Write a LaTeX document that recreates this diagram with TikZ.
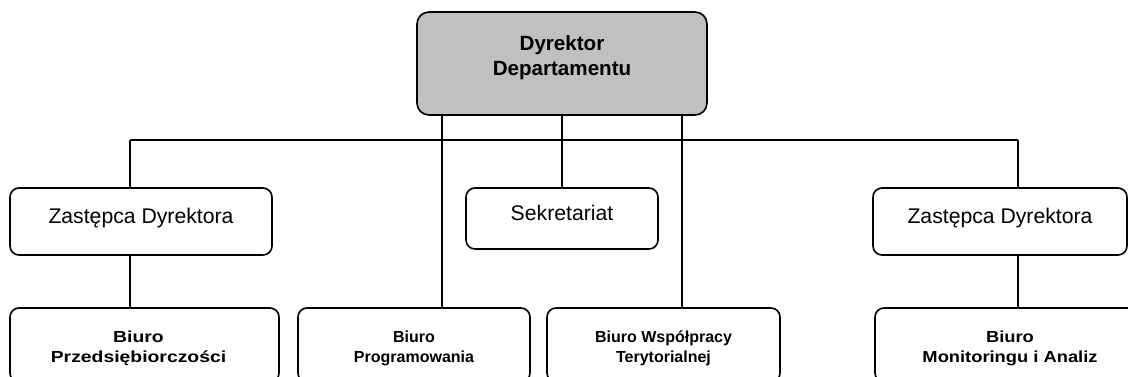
\documentclass[tikz,border=0pt]{standalone}
\usepackage{fontspec}
\usepackage{graphicx}
\setmainfont{Liberation Sans}
\definecolor{boxgray}{HTML}{C0C0C0}
\tikzset{
  x=1pt, y=-1pt,
  orgbox/.style={draw=black, line width=1.6pt, rounded corners=9pt, inner sep=0pt, align=center},
  topbox/.style={orgbox, fill=boxgray, rounded corners=12pt, font=\fontsize{20.6}{25}\selectfont\bfseries, text height=10pt, text depth=37pt},
  midbox/.style={orgbox, fill=white, font=\fontsize{21.2}{24}\selectfont, text height=15pt, text depth=12pt},
  lowbox/.style={orgbox, fill=white, font=\fontsize{16}{20}\selectfont\bfseries, text height=14pt, text depth=20pt},
  conn/.style={draw=black, line width=1.5pt}
}
\begin{document}
\begin{tikzpicture}
\useasboundingbox (0,0) rectangle (1128,376);
\clip (0,0) rectangle (1128,376);
\fill[white] (0,0) rectangle (1128,376);

\coordinate (barL) at (130,140);
\coordinate (barR) at (1018,140);
\coordinate (xA) at (442,0);
\coordinate (xB) at (562,0);
\coordinate (xC) at (682,0);

% connectors (drawn first, boxes on top)
\draw[conn] (barL) -- (barR);
\draw[conn] (barL) -- (130,188) coordinate (zlTop);
\draw[conn] (barR) -- (1018,188) coordinate (zrTop);

\node[topbox, minimum width=290, minimum height=103] (dyr) at (562,63.5)
  {\begin{tabular}[t]{@{}c@{}}Dyrektor\\Departamentu\end{tabular}};
\node[midbox, minimum width=262, minimum height=67] (zl) at (141,221.5)
  {\begin{tabular}[t]{@{}c@{}}Zastępca Dyrektora\end{tabular}};
\node[midbox, minimum width=192, minimum height=61] (sek) at (562,218.5)
  {\begin{tabular}[t]{@{}c@{}}Sekretariat\end{tabular}};
\node[midbox, minimum width=254, minimum height=67] (zr) at (1000,221.5)
  {\begin{tabular}[t]{@{}c@{}}Zastępca Dyrektora\end{tabular}};
\node[lowbox, minimum width=269, minimum height=74] (b1) at (144.5,345)
  {\begin{tabular}[t]{@{}c@{\hspace{12pt}}}\scalebox{1.21}[1]{Biuro}\\\scalebox{1.21}[1]{Przedsiębiorczości}\end{tabular}};
\node[lowbox, minimum width=232, minimum height=74] (b2) at (414,345)
  {\begin{tabular}[t]{@{}c@{}}Biuro\\Programowania\end{tabular}};
\node[lowbox, minimum width=233, minimum height=74] (b3) at (663.5,345)
  {\begin{tabular}[t]{@{}c@{}}Biuro Współpracy\\Terytorialnej\end{tabular}};
\node[lowbox, minimum width=270, minimum height=74] (b4) at (1010,345)
  {\begin{tabular}[t]{@{}c@{}}\scalebox{1.145}[1]{Biuro}\\\scalebox{1.145}[1]{Monitoringu i Analiz}\end{tabular}};

\draw[conn] (dyr.south -| xA) -- (b2.north -| xA);
\draw[conn] (dyr.south -| xB) -- (sek.north);
\draw[conn] (dyr.south -| xC) -- (b3.north -| xC);
\draw[conn] (zl.south -| barL) -- (b1.north -| barL);
\draw[conn] (zr.south -| barR) -- (b4.north -| barR);
\end{tikzpicture}
\end{document}
